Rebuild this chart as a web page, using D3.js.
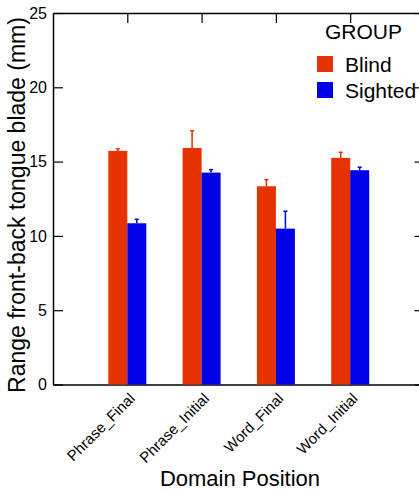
<!DOCTYPE html>
<html>
<head>
<meta charset="utf-8">
<script src="https://cdn.jsdelivr.net/npm/d3@7"></script>
<style>
  body { margin: 0; background: #fff; }
  text { font-family: "Liberation Sans", Arial, sans-serif; fill: #000; }
</style>
</head>
<body>
<div id="chart"></div>
<script>
// data
var positions = ["Phrase_Final", "Phrase_Initial", "Word_Final", "Word_Initial"];
var groups = ["Blind", "Sighted"];
var blindMean = [15.72, 15.92, 13.34, 15.25];
var blindErr = [0.14, 1.15, 0.45, 0.38];
var sightedMean = [10.85, 14.26, 10.49, 14.42];
var sightedErr = [0.27, 0.2, 1.17, 0.2];
var yTicks = [0, 5, 10, 15, 20, 25];

var colors = {Blind: "#e53200", Sighted: "#0000e6"};

var width = 419, height = 492;
var plotLeft = 53, plotRight = 424.5, plotTop = 13, plotBottom = 384.5;
var barW = 19;

var rows = [];
positions.forEach(function(p, i) {
    rows.push({pos: p, group: "Blind", v: blindMean[i], e: blindErr[i]});
    rows.push({pos: p, group: "Sighted", v: sightedMean[i], e: sightedErr[i]});
});

var svg = d3.select("#chart").append("svg")
    .attr("width", width)
    .attr("height", height);

var x = d3.scalePoint().domain(positions).range([plotLeft, plotRight]).padding(1);
var y = d3.scaleLinear().domain([0, 25]).range([plotBottom, plotTop]);

function barMid(d) { return x(d.pos) + (d.group == "Blind" ? -barW / 2 : barW / 2); }

// axes, ticks pointing inward
var yLeft = svg.append("g").attr("transform", "translate(" + plotLeft + ",0)")
    .call(d3.axisLeft(y).tickValues(yTicks).tickSize(-10).tickPadding(6).tickSizeOuter(0));
yLeft.selectAll("text").style("font-size", "16px");

svg.append("g").attr("transform", "translate(" + plotRight + ",0)")
    .call(d3.axisRight(y).tickValues(yTicks).tickSize(-10).tickSizeOuter(0).tickFormat(""));

svg.append("g").attr("transform", "translate(0," + plotTop + ")")
    .call(d3.axisTop(x).tickSize(-10).tickSizeOuter(0).tickFormat(""));

var xAxis = svg.append("g").attr("transform", "translate(0," + plotBottom + ")")
    .call(d3.axisBottom(x).tickSize(0).tickSizeOuter(0));
xAxis.selectAll("text")
    .style("font-size", "15px")
    .attr("text-anchor", "end")
    .attr("dy", null)
    .attr("y", 0)
    .attr("transform", "translate(8,15) rotate(-45)");

svg.selectAll(".domain").attr("stroke", "#000").attr("stroke-width", 1.5);
svg.selectAll(".tick line").attr("stroke", "#000").attr("stroke-width", 1.2);
svg.selectAll(".tick text").attr("fill", "#000").style("font-family", "Liberation Sans, Arial, sans-serif");

// bars
svg.selectAll("rect.bar").data(rows).enter().append("rect")
    .attr("class", "bar")
    .attr("x", function(d) { return d.group == "Blind" ? x(d.pos) - barW : x(d.pos); })
    .attr("y", function(d) { return y(d.v); })
    .attr("width", barW)
    .attr("height", function(d) { return y(0) - y(d.v); })
    .attr("fill", function(d) { return colors[d.group]; });

// error bars (upper only)
var eb = svg.selectAll("g.err").data(rows).enter().append("g")
    .attr("class", "err")
    .attr("stroke", function(d) { return colors[d.group]; })
    .attr("stroke-width", 1.5);
eb.append("line")
    .attr("x1", barMid).attr("x2", barMid)
    .attr("y1", function(d) { return y(d.v); })
    .attr("y2", function(d) { return y(d.v + d.e); });
eb.append("line")
    .attr("x1", function(d) { return barMid(d) - 2; })
    .attr("x2", function(d) { return barMid(d) + 2; })
    .attr("y1", function(d) { return y(d.v + d.e); })
    .attr("y2", function(d) { return y(d.v + d.e); });

// axis titles
svg.append("text")
    .attr("x", 240).attr("y", 486)
    .attr("text-anchor", "middle")
    .style("font-size", "22px")
    .text("Domain  Position");

svg.append("text")
    .attr("transform", "translate(25,205) rotate(-90)")
    .attr("text-anchor", "middle")
    .style("font-size", "23px")
    .text("Range front-back tongue blade (mm)");

// legend
var legend = svg.append("g");
legend.append("text")
    .attr("x", 325).attr("y", 39)
    .style("font-size", "21px")
    .text("GROUP");
var li = legend.selectAll("g.li").data(groups).enter().append("g")
    .attr("transform", function(d, i) { return "translate(317," + (56 + i * 26) + ")"; });
li.append("rect")
    .attr("width", 16).attr("height", 16)
    .attr("fill", function(d) { return colors[d]; });
li.append("text")
    .attr("x", 28).attr("y", 16)
    .style("font-size", "21px")
    .text(function(d) { return d; });
</script>
</body>
</html>
